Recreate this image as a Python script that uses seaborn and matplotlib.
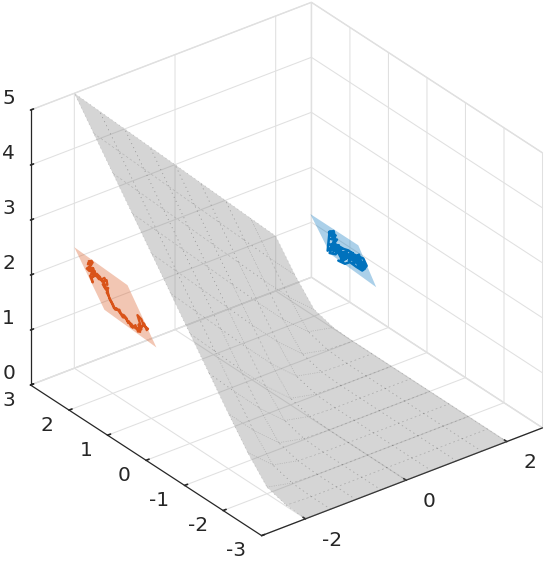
import matplotlib
matplotlib.use('Agg')
import matplotlib.pyplot as plt
from mpl_toolkits.mplot3d.art3d import Poly3DCollection
import numpy as np
import seaborn as sns

# surface values, rows follow y_grid, columns follow x_grid
x_grid = [-2, -1.5, -1, -0.5, 0, 0.5, 1, 1.5, 2]
y_grid = [-3, -2.5, -2, -1.5, -1, -0.5, 0, 0.5, 1, 1.5, 2, 2.5, 3]
z_grid = [
    [0, 0, 0, 0, 0, 0, 0, 0, 0],
    [0.02, 0, 0, 0, 0, 0, 0, 0, 0],
    [0.12, 0.02, 0, 0, 0, 0, 0, 0, 0],
    [0.52, 0.12, 0.02, 0, 0, 0, 0, 0, 0],
    [1, 0.52, 0.12, 0.02, 0, 0, 0, 0, 0],
    [1.5, 1, 0.52, 0.12, 0.02, 0, 0, 0, 0],
    [2, 1.5, 1, 0.52, 0.12, 0.02, 0, 0, 0],
    [2.5, 2, 1.5, 1, 0.52, 0.12, 0.02, 0, 0],
    [3, 2.5, 2, 1.5, 1, 0.52, 0.12, 0.02, 0],
    [3.5, 3, 2.5, 2, 1.5, 1, 0.52, 0.12, 0.02],
    [4, 3.5, 3, 2.5, 2, 1.5, 1, 0.52, 0.12],
    [4.5, 4, 3.5, 3, 2.5, 2, 1.5, 1, 0.52],
    [5, 4.5, 4, 3.5, 3, 2.5, 2, 1.5, 1],
]

# orange patch and path, sits in the plane x = -2
orange_x = -2
orange_patch_y = [3.0, 1.62, 0.87, 2.22]
orange_patch_z = [2.2, 2.14, 1.35, 1.42]
orange_y = [2.627, 2.523, 2.575, 2.679, 2.610, 2.506, 2.480, 2.593, 2.523, 2.549, 2.420, 2.333,
            2.281, 2.160, 2.142, 2.264, 2.194, 2.134, 2.091, 2.039, 1.987, 1.935, 1.831, 1.788,
            1.710, 1.640, 1.606, 1.519, 1.484, 1.415, 1.346, 1.259, 1.294, 1.363, 1.259, 1.207, 1.086,
            1.12, 1.19, 1.24, 1.31, 1.33, 1.29, 1.37, 1.41, 1.47, 1.53, 1.58, 1.63, 1.68, 1.74, 1.80,
            1.86, 1.91, 1.97, 2.02, 2.07, 2.11, 2.16, 2.12, 2.21, 2.24, 2.18, 2.22, 2.30, 2.36, 2.43,
            2.50, 2.47, 2.56, 2.53, 2.62, 2.58, 2.65, 2.55, 2.64]
orange_z = [2.118, 2.142, 2.057, 1.960, 1.945, 2.041, 1.980, 1.868, 1.778, 1.851, 1.985, 1.964,
            1.904, 1.985, 1.908, 1.863, 1.811, 1.791, 1.690, 1.653, 1.605, 1.550, 1.598, 1.541,
            1.552, 1.524, 1.461, 1.484, 1.427, 1.508, 1.419, 1.502, 1.589, 1.714, 1.684, 1.605, 1.589,
            1.55, 1.64, 1.56, 1.47, 1.56, 1.44, 1.47, 1.45, 1.47, 1.43, 1.50, 1.49, 1.52, 1.50, 1.54,
            1.57, 1.59, 1.56, 1.62, 1.66, 1.72, 1.76, 1.86, 1.84, 1.92, 1.96, 2.00, 1.93, 1.91, 1.94,
            1.90, 2.01, 1.92, 2.04, 1.98, 2.10, 2.05, 2.16, 2.08]

# blue patch and path, sits in the plane x = 2
blue_x = 2
blue_patch_y = [2.10, 0.855, 0.39, 1.58]
blue_patch_z = [1.81, 1.81, 1.26, 1.32]
blue_y = [1.617, 1.495, 1.461, 1.565, 1.409, 1.513, 1.392, 1.547, 1.599, 1.444, 1.374, 1.288, 1.305,
          1.184, 1.063, 1.028, 0.941, 0.837, 0.803, 0.699, 0.682, 0.803, 0.889, 1.011, 1.132, 1.253,
          1.374, 1.478, 1.582,
          0.74, 0.72, 0.78, 0.85, 0.80, 0.92, 0.98, 0.90, 1.05, 1.10, 1.00, 1.18, 1.22, 1.15, 1.30,
          1.35, 1.27, 1.42, 1.36, 1.50, 1.45, 1.56, 1.48, 1.53, 1.44, 1.58, 1.52, 1.60,
          1.651, 1.461, 1.244, 1.115, 0.959, 0.725, 0.638, 0.751, 0.898, 1.071, 1.201, 1.374]
blue_z = [1.697, 1.778, 1.673, 1.600, 1.661, 1.515, 1.560, 1.426, 1.330, 1.378, 1.495, 1.475, 1.345,
          1.487, 1.555, 1.597, 1.540, 1.648, 1.556, 1.544, 1.467, 1.435, 1.467, 1.471, 1.463, 1.346,
          1.435, 1.459, 1.495,
          1.50, 1.43, 1.49, 1.43, 1.60, 1.50, 1.43, 1.57, 1.50, 1.42, 1.60, 1.42, 1.52, 1.55, 1.40,
          1.50, 1.56, 1.44, 1.58, 1.40, 1.52, 1.45, 1.62, 1.68, 1.72, 1.66, 1.74, 1.72,
          1.348, 1.558, 1.568, 1.598, 1.592, 1.629, 1.535, 1.398, 1.396, 1.406, 1.316, 1.295]

x_ticks = [-2, 0, 2]
y_ticks = [-3, -2, -1, 0, 1, 2, 3]
z_ticks = [0, 1, 2, 3, 4, 5]

sns.set_theme(style='white')
plt.rcParams['font.family'] = ['DejaVu Sans']
plt.rcParams['axes.unicode_minus'] = False
plt.rcParams['grid.color'] = '#e0e0e0'
plt.rcParams['grid.linewidth'] = 0.75

fig = plt.figure(figsize=(5.46, 5.66), dpi=100)
ax = fig.add_axes([-16.8 / 546, -6.3 / 566, 590.7 / 546, 590.7 / 566], projection='3d', computed_zorder=False)
ax.set_proj_type('ortho')
ax.view_init(elev=30, azim=-127.5)
ax.set_box_aspect((354, 379.6, 317.5))
ax.set_xlim(-2.87, 2.71, view_margin=0)
ax.set_ylim(-3, 3, view_margin=0)
ax.set_zlim(0, 5, view_margin=0)

X, Y = np.meshgrid(x_grid, y_grid)
ax.plot_surface(X, Y, np.array(z_grid), rstride=1, cstride=1, color=(0.5, 0.5, 0.5, 0.33),
                edgecolor=(0.3, 0.3, 0.3, 0.3), linewidth=0.5, linestyle=(0, (1.5, 5)), shade=False, zorder=2)

orange_poly = list(zip([orange_x] * 4, orange_patch_y, orange_patch_z))
blue_poly = list(zip([blue_x] * 4, blue_patch_y, blue_patch_z))
ax.add_collection3d(Poly3DCollection([orange_poly], facecolor=(0.85, 0.325, 0.098, 0.33), edgecolor='none', zorder=3))
ax.add_collection3d(Poly3DCollection([blue_poly], facecolor=(0, 0.447, 0.741, 0.33), edgecolor='none', zorder=3))
ax.plot([orange_x] * len(orange_y), orange_y, orange_z, color=(0.85, 0.325, 0.098), lw=1.6, zorder=4)
ax.plot([blue_x] * len(blue_y), blue_y, blue_z, color=(0, 0.447, 0.741), lw=1.8, zorder=4)

ax.set_xticks(x_ticks)
ax.set_yticks(y_ticks)
ax.set_zticks(z_ticks)
for axis in (ax.xaxis, ax.yaxis, ax.zaxis):
    axis.set_pane_color((1, 1, 1, 1))
    axis.pane.set_edgecolor('#e0e0e0')
    axis.line.set_color('#262626')
    axis.line.set_linewidth(0.9)
    axis._axinfo['tick']['inward_factor'] = 0.0
    axis._axinfo['tick']['outward_factor'] = 0.13
ax.tick_params(axis='both', labelsize=14.5, labelcolor='#262626', color='#262626', width=0.7)
ax.tick_params(axis='x', pad=8)
ax.tick_params(axis='y', pad=4)
ax.tick_params(axis='z', pad=1.5)

# nudge the labels the way the reference has them
for label in ax.get_xticklabels():
    label.set_va('bottom')
    label.set_ha('left')
for label in ax.get_yticklabels():
    label.set_va('baseline')
    label.set_ha('right')
for label in ax.get_zticklabels():
    label.set_va('bottom')
    label.set_ha('center')
ax.grid(True)

fig.savefig('out.png', dpi=100)
